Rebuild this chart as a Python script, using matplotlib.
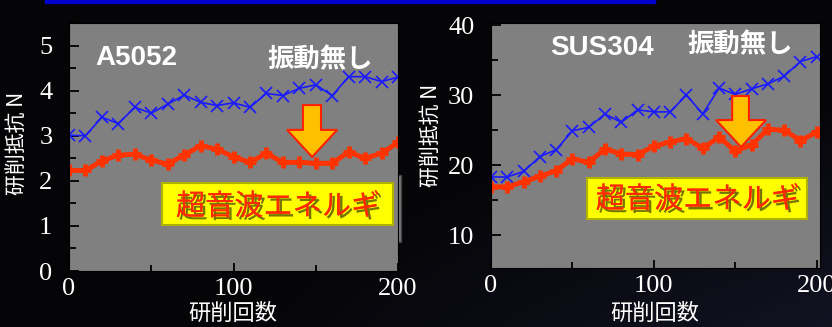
import numpy as np
import matplotlib
matplotlib.use("Agg")
import matplotlib.pyplot as plt
from matplotlib.patches import Rectangle, Polygon
from matplotlib.ticker import MultipleLocator
import matplotlib.patheffects as pe

plt.rcParams['font.family'] = ['Noto Sans CJK JP', 'DejaVu Sans']

# cutting count (every 10 passes)
passes = list(range(0, 201, 10))

# A5052 cutting force [N]
a5052_no_vib = [3.01, 3.00, 3.41, 3.27, 3.63, 3.50, 3.70, 3.90, 3.74, 3.67, 3.73,
                3.63, 3.94, 3.89, 4.05, 4.13, 3.89, 4.31, 4.31, 4.20, 4.30]
a5052_ultra = [2.23, 2.23, 2.44, 2.57, 2.59, 2.46, 2.37, 2.57, 2.78, 2.70, 2.53,
               2.41, 2.61, 2.41, 2.41, 2.39, 2.39, 2.64, 2.50, 2.61, 2.85]

# SUS304 cutting force [N]
sus304_no_vib = [18.3, 18.3, 19.1, 21.2, 22.2, 24.9, 25.4, 27.3, 26.1, 27.9, 27.6,
                 27.6, 30.0, 27.3, 31.0, 30.1, 30.9, 31.6, 32.7, 34.8, 35.5]
sus304_ultra = [16.9, 16.9, 17.6, 18.4, 19.2, 20.9, 20.4, 22.3, 21.6, 21.5, 22.7,
                23.3, 23.8, 22.4, 24.0, 22.0, 22.9, 25.1, 25.0, 23.5, 24.7]

W, H = 832, 327
fig = plt.figure(figsize=(W / 100, H / 100), dpi=100)

# dark slide background with a faint glow
bg = fig.add_axes([0, 0, 1, 1], zorder=-5)
yy, xx = np.mgrid[0:1:100j, 0:1:200j]
glow = np.clip(0.9 * xx * (1 - yy) - 0.25, 0, 1)
img = np.zeros((100, 200, 3))
img[..., 0] = 0.02 + 0.08 * glow
img[..., 1] = 0.02 + 0.08 * glow
img[..., 2] = 0.03 + 0.16 * glow
bg.imshow(img, extent=[0, 1, 0, 1], aspect="auto", origin="lower")
bg.set_xlim(0, 1)
bg.set_ylim(0, 1)
bg.set_axis_off()
bg.add_patch(Rectangle((45 / W, 1 - 3 / H), 610 / W, 3 / H, color="#0000cc"))
# grey plate behind the left label box
bg.add_patch(Rectangle((160 / W, 1 - 242 / H), 241 / W, 67 / H,
                       facecolor="#7a7a7a", edgecolor="#404040", lw=1))


def panel(rect, xlim, ylim, ymaj, ymin, no_vib, ultra, title, ylab_xy, xlab_xy,
          box, txt_xy, arrow, title_xy, shin_xy):
    ax = fig.add_axes(rect)
    ax.set_facecolor("#808080")
    ax.set_xlim(*xlim)
    ax.set_ylim(*ylim)
    ax.plot(passes, no_vib, color="#1a1aff", lw=1.2, marker="x", ms=8, mew=1.2)
    ax.plot(passes, ultra, color="#ff3300", lw=3.5, marker="+", ms=8, mew=3.5)
    ax.xaxis.set_major_locator(MultipleLocator(100))
    ax.xaxis.set_minor_locator(MultipleLocator(50))
    ax.yaxis.set_major_locator(MultipleLocator(ymaj))
    ax.yaxis.set_minor_locator(MultipleLocator(ymin))
    ax.tick_params(which="both", direction="in", color="black", width=1.3,
                   labelcolor="white", labelsize=19, top=False, right=False)
    ax.tick_params(axis="y", which="major", length=7, pad=12)
    ax.tick_params(axis="y", which="minor", length=5)
    ax.tick_params(axis="x", which="major", length=6, pad=5)
    ax.tick_params(axis="x", which="minor", length=4)
    for lab in ax.get_xticklabels() + ax.get_yticklabels():
        lab.set_fontfamily("Liberation Serif")
    for s in ax.spines.values():
        s.set_color("black")
    ax.set_ylabel("研削抵抗 N", color="white", fontsize=15)
    ax.yaxis.set_label_coords(*ylab_xy)
    ax.set_xlabel("研削回数", color="white", fontsize=16)
    ax.xaxis.set_label_coords(*xlab_xy)

    ax.text(*title_xy, title, transform=ax.transAxes, color="white", fontsize=20,
            fontweight="bold", family="Liberation Sans", ha="left", va="center")
    ax.text(*shin_xy, "振動無し", transform=ax.transAxes, color="white", fontsize=19,
            fontweight="bold", ha="left", va="center")

    bx0, by0, bx1, by1 = box
    ax.add_patch(Rectangle((bx0, by0), bx1 - bx0, by1 - by0, transform=ax.transAxes,
                           facecolor="#ffff00", edgecolor="#b0b000", lw=1.5,
                           zorder=5))
    ax.text(*txt_xy, "超音波エネルギ", transform=ax.transAxes, color="#ff2a00",
            fontsize=21, ha="center", va="center", zorder=6,
            path_effects=[pe.withSimplePatchShadow(offset=(2, -2),
                                                   shadow_rgbFace="#3a3a00",
                                                   alpha=0.7),
                          pe.Normal()])
    ax.add_patch(Polygon(arrow, closed=True, transform=ax.transAxes,
                         facecolor="#ffc000", edgecolor="#ff2000", lw=1.5,
                         zorder=6))
    return ax


def arrow_pts(sx0, sx1, top, hx0, hx1, hy, tx, ty):
    return [(sx0, top), (sx1, top), (sx1, hy), (hx1, hy), (tx, ty),
            (hx0, hy), (sx0, hy)]


panel([69 / W, 1 - 271 / H, 329 / W, 248 / H], (0, 200), (0, 5.5), 1, 0.5,
      a5052_no_vib, a5052_ultra, "A5052",
      (-0.125, 0.516), (0.498, -0.125),
      (0.283, 0.185, 0.985, 0.355), (0.635, 0.258),
      arrow_pts(0.711, 0.766, 0.669, 0.663, 0.815, 0.569, 0.739, 0.460),
      (0.079, 0.859), (0.602, 0.851))

panel([491 / W, 1 - 268 / H, 329 / W, 245 / H], (0, 202), (5.3, 40.3), 10, 5,
      sus304_no_vib, sus304_ultra, "SUS304",
      (-0.149, 0.543), (0.498, -0.139),
      (0.292, 0.200, 0.960, 0.367), (0.628, 0.278),
      arrow_pts(0.733, 0.784, 0.702, 0.684, 0.836, 0.604, 0.760, 0.494),
      (0.179, 0.898), (0.596, 0.910))

fig.savefig("out.png", dpi=100)
